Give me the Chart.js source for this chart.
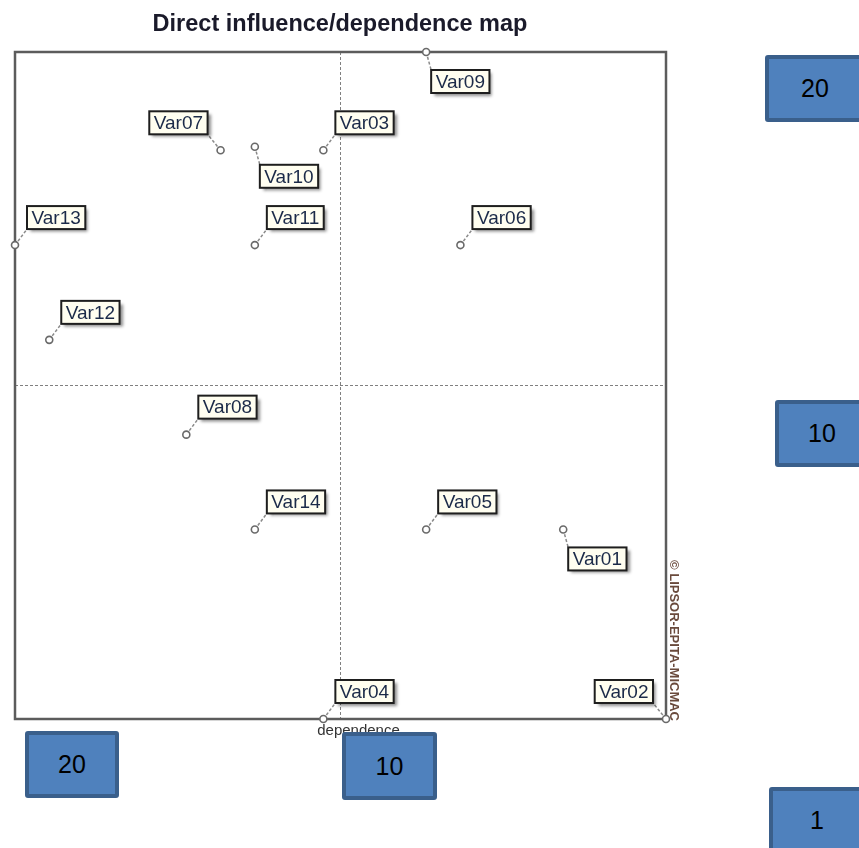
<!DOCTYPE html>
<html>
<head>
<meta charset="utf-8">
<script src="https://cdn.jsdelivr.net/npm/chart.js@4.4.1/dist/chart.umd.min.js"></script>
<style>
  body { margin: 0; background: #fff; overflow: hidden; width: 859px; height: 848px; position: relative; font-family: "Liberation Sans", Arial, sans-serif; }
  #map { position: absolute; left: 0; top: 0; }
  .tag { position: absolute; box-sizing: border-box; background: #4f81bd; border: 4px solid #3a5f8b; border-radius: 3px;
         color: #000; font-size: 25px; display: flex; align-items: center; justify-content: center; }
</style>
</head>
<body>
<canvas id="map" width="859" height="848"></canvas>
<div class="tag" style="left:765px;top:55px;width:100px;height:67px;">20</div>
<div class="tag" style="left:775px;top:400px;width:94px;height:67px;">10</div>
<div class="tag" style="left:769px;top:787px;width:96px;height:80px;padding-bottom:14px;">1</div>
<div class="tag" style="left:25px;top:731px;width:94px;height:67px;">20</div>
<div class="tag" style="left:342px;top:732px;width:95px;height:68px;">10</div>
<script>
const varNames = ['Var01', 'Var02', 'Var03', 'Var04', 'Var05', 'Var06', 'Var07',
                  'Var08', 'Var09', 'Var10', 'Var11', 'Var12', 'Var13', 'Var14'];
const dependence = [4, 1, 11, 11, 8, 7, 14, 15, 8, 13, 13, 19, 20, 13];
const influence = [6.4, 1, 17.2, 1, 6.4, 14.5, 17.2, 9.1, 20, 17.3, 14.5, 11.8, 14.5, 6.4];
const axisMin = 1;
const axisMax = 20;
const meanLine = 10.5;

// where each label box sits relative to its point
const labelSide = ['lr', 'ul', 'ur', 'ur', 'ur', 'ur', 'ul', 'ur', 'lr', 'lr', 'ur', 'ur', 'ur', 'ur'];

const labelFont = '19px "Liberation Sans", Arial, sans-serif';

function labelBox(ctx, px, py, side, text) {
    const w = ctx.measureText(text).width + 9;
    const h = 23;
    let x, y, cx, cy;
    if (side === 'ur') { x = px + 12; y = py - 16 - h; cx = x; cy = y + h; }
    else if (side === 'lr') { x = px + 5; y = py + 18; cx = x; cy = y; }
    else { x = px - 13 - w; y = py - 16 - h; cx = x + w; cy = y + h; }
    return { x, y, w, h, cx, cy };
}

const mapDecor = {
    id: 'mapDecor',
    beforeDatasetsDraw(chart) {
        const ctx = chart.ctx;
        const a = chart.chartArea;
        const xs = chart.scales.x, ys = chart.scales.y;
        ctx.save();
        // mean lines
        ctx.strokeStyle = '#808080';
        ctx.lineWidth = 1;
        ctx.setLineDash([3, 2]);
        const mx = xs.getPixelForValue(meanLine), my = ys.getPixelForValue(meanLine);
        ctx.beginPath();
        ctx.moveTo(mx, a.top); ctx.lineTo(mx, a.bottom);
        ctx.moveTo(a.left, my); ctx.lineTo(a.right, my);
        ctx.stroke();
        // frame
        ctx.setLineDash([]);
        ctx.strokeStyle = '#5c5c5c';
        ctx.lineWidth = 2.5;
        ctx.strokeRect(a.left, a.top, a.right - a.left, a.bottom - a.top);
        // connectors
        ctx.font = labelFont;
        const meta = chart.getDatasetMeta(0);
        meta.data.forEach((pt, i) => {
            const b = labelBox(ctx, pt.x, pt.y, labelSide[i], varNames[i]);
            ctx.setLineDash([3, 2]);
            ctx.strokeStyle = '#8a8a8a';
            ctx.lineWidth = 1.5;
            ctx.beginPath();
            ctx.moveTo(pt.x, pt.y);
            ctx.lineTo(b.cx, b.cy);
            ctx.stroke();
        });
        ctx.restore();
    },
    afterDatasetsDraw(chart) {
        const ctx = chart.ctx;
        const a = chart.chartArea;
        const meta = chart.getDatasetMeta(0);
        ctx.save();
        ctx.font = labelFont;
        meta.data.forEach((pt, i) => {
            const b = labelBox(ctx, pt.x, pt.y, labelSide[i], varNames[i]);
            ctx.shadowColor = 'rgba(0,0,0,0.45)';
            ctx.shadowOffsetX = 3;
            ctx.shadowOffsetY = 3;
            ctx.shadowBlur = 3;
            ctx.fillStyle = '#fffef0';
            ctx.fillRect(b.x, b.y, b.w, b.h);
            ctx.shadowColor = 'transparent';
            ctx.strokeStyle = '#1e1e1e';
            ctx.lineWidth = 2;
            ctx.strokeRect(b.x, b.y, b.w, b.h);
            ctx.fillStyle = '#1b2a48';
            ctx.textAlign = 'center';
            ctx.textBaseline = 'middle';
            ctx.fillText(varNames[i], b.x + b.w / 2, b.y + b.h / 2 + 1);
        });
        // title
        ctx.fillStyle = '#1a1a2a';
        ctx.font = 'bold 23.5px "Liberation Sans", Arial, sans-serif';
        ctx.textAlign = 'center';
        ctx.textBaseline = 'alphabetic';
        ctx.fillText('Direct influence/dependence map', 340, 31);
        // axis title
        ctx.font = '15px "Liberation Sans", Arial, sans-serif';
        ctx.fillStyle = '#333';
        ctx.textBaseline = 'top';
        ctx.fillText('dependence', (a.left + a.right) / 2 + 18, a.bottom + 4);
        // vertical note on the right
        ctx.translate(a.right + 8, a.bottom + 2);
        ctx.rotate(Math.PI / 2);
        ctx.font = 'bold 13px "Liberation Sans", Arial, sans-serif';
        ctx.fillStyle = '#6a4a3c';
        ctx.textAlign = 'right';
        ctx.textBaseline = 'middle';
        ctx.fillText('© LIPSOR-EPITA-MICMAC', 0, 0);
        ctx.restore();
    }
};

new Chart(document.getElementById('map'), {
    type: 'scatter',
    data: {
        datasets: [{
            label: 'Variables',
            data: varNames.map((n, i) => ({ x: dependence[i], y: influence[i] })),
            pointRadius: 3.5,
            pointBackgroundColor: '#ffffff',
            pointBorderColor: '#6a6a6a',
            pointBorderWidth: 1.6,
            clip: false
        }]
    },
    options: {
        responsive: false,
        animation: false,
        layout: { padding: { left: 15, top: 52, right: 193, bottom: 129 } },
        plugins: { legend: { display: false }, tooltip: { enabled: false } },
        scales: {
            x: { type: 'linear', min: axisMin, max: axisMax, reverse: true, display: false },
            y: { type: 'linear', min: axisMin, max: axisMax, display: false }
        }
    },
    plugins: [mapDecor]
});
</script>
</body>
</html>
